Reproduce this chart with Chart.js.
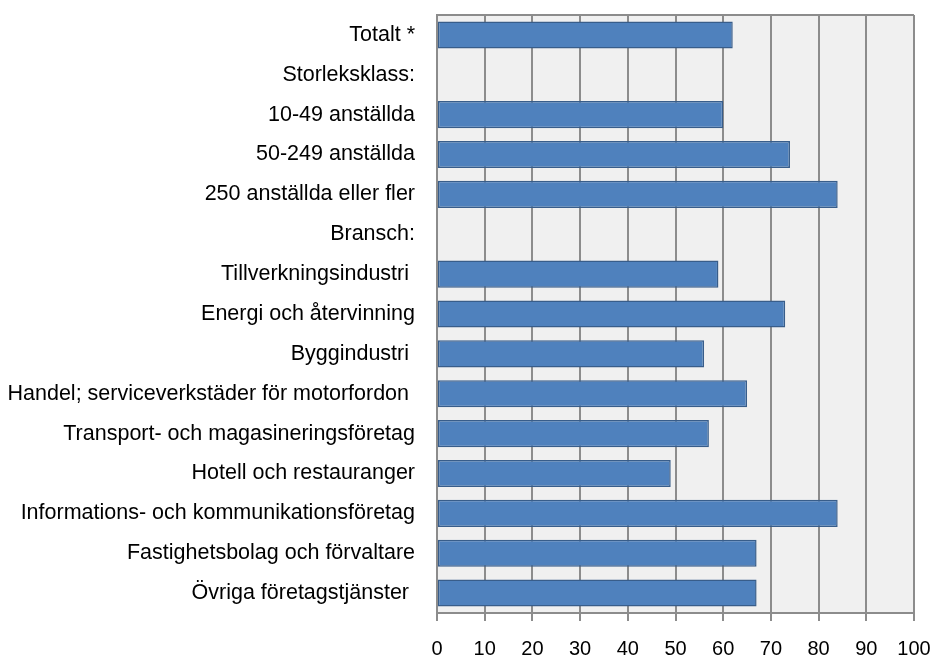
<!DOCTYPE html>
<html><head><meta charset="utf-8">
<script src="https://cdn.jsdelivr.net/npm/chart.js@4"></script>
<style>html,body{margin:0;padding:0;background:#fff;}#wrap{width:934px;height:659px;}</style>
</head><body><div id="wrap"><canvas id="c" width="934" height="659"></canvas></div>
<script>
const categories = [
  "Totalt *",
  "Storleksklass:",
  "10-49 anställda",
  "50-249 anställda",
  "250 anställda eller fler",
  "Bransch:",
  "Tillverkningsindustri ",
  "Energi och återvinning",
  "Byggindustri ",
  "Handel; serviceverkstäder för motorfordon ",
  "Transport- och magasineringsföretag",
  "Hotell och restauranger",
  "Informations- och kommunikationsföretag",
  "Fastighetsbolag och förvaltare",
  "Övriga företagstjänster "
];
const values = [62, null, 60, 74, 84, null, 59, 73, 56, 65, 57, 49, 84, 67, 67];
const xTicks = [0,10,20,30,40,50,60,70,80,90,100];

const plotBg = {
  id: 'plotBg',
  beforeDraw(chart) {
    const {ctx, chartArea: a} = chart;
    ctx.save();
    ctx.fillStyle = '#f0f0f0';
    ctx.fillRect(a.left, a.top, a.right - a.left, a.bottom - a.top);
    ctx.restore();
  },
  afterDraw(chart) {
    const {ctx, chartArea: a} = chart;
    ctx.save();
    ctx.strokeStyle = '#8c8c8c';
    ctx.lineWidth = 2;
    ctx.beginPath();
    ctx.moveTo(a.left, a.top);
    ctx.lineTo(a.right, a.top);
    ctx.stroke();
    ctx.restore();
  }
};

new Chart(document.getElementById('c'), {
  type: 'bar',
  data: {
    labels: categories,
    datasets: [{
      data: values,
      backgroundColor: '#4f81bd',
      borderColor: '#385d8a',
      borderWidth: 1.5,
      borderSkipped: false,
      barPercentage: 0.68,
      categoryPercentage: 1.0
    }]
  },
  options: {
    indexAxis: 'y',
    responsive: false,
    animation: false,
    layout: { autoPadding: false, padding: { top: 15, right: 20, left: 0, bottom: 0 } },
    plugins: { legend: { display: false }, tooltip: { enabled: false } },
    scales: {
      x: {
        min: 0, max: 100,
        afterBuildTicks(axis) { axis.ticks = xTicks.map(v => ({value: v})); },
        afterFit(axis) { axis.height = 46; axis.paddingLeft = 0; axis.paddingRight = 0; axis.paddingTop = 0; axis.paddingBottom = 0; },
        grid: { color: '#8c8c8c', lineWidth: 2, tickLength: 8, drawOnChartArea: true },
        border: { color: '#8c8c8c', width: 2 },
        ticks: { color: '#000', font: { family: 'Liberation Sans', size: 20 }, padding: 16, maxRotation: 0 }
      },
      y: {
        afterFit(axis) { axis.width = 437; axis.paddingLeft = 0; axis.paddingRight = 0; axis.paddingTop = 0; axis.paddingBottom = 0; },
        grid: { display: false, drawTicks: false },
        border: { color: '#8c8c8c', width: 2 },
        ticks: { color: '#000', font: { family: 'Liberation Sans', size: 21.5 }, padding: 22, autoSkip: false, crossAlign: 'near' }
      }
    }
  },
  plugins: [plotBg]
});
</script></body></html>
